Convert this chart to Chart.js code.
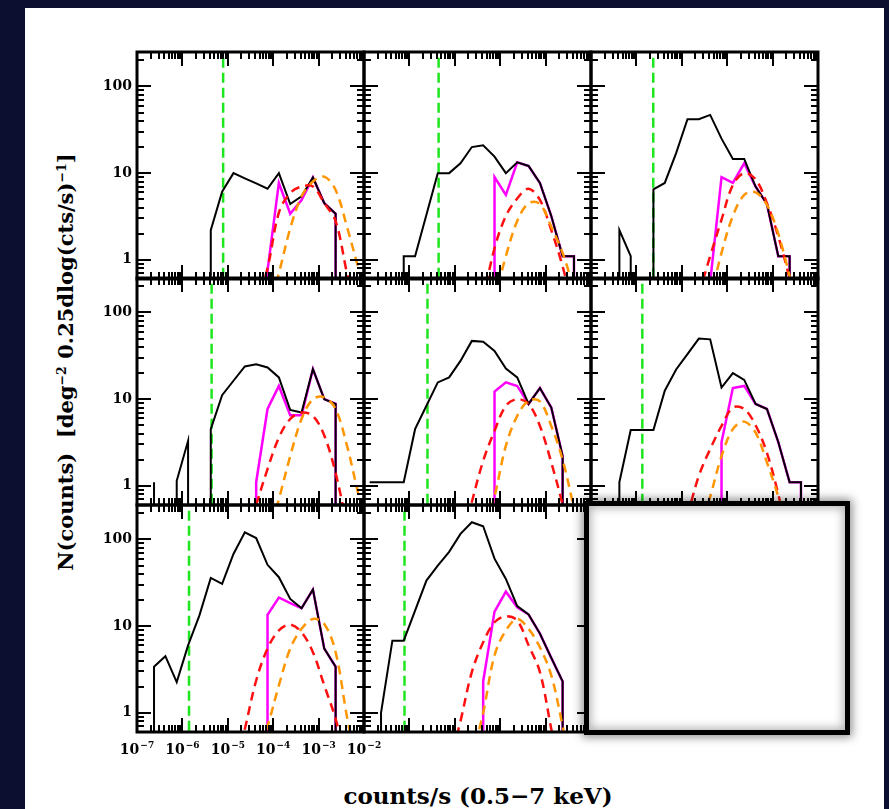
<!DOCTYPE html>
<html>
<head>
<meta charset="utf-8">
<script src="https://cdn.jsdelivr.net/npm/chart.js@4.4.1/dist/chart.umd.min.js"></script>
<style>
  html, body { margin: 0; padding: 0; }
  body { width: 889px; height: 809px; background: #0c0f30; position: relative; overflow: hidden; }
  #sheet { position: absolute; left: 25px; top: 8px; width: 859px; height: 810px; background: #fff; }
  canvas { position: absolute; }
  .title { position: absolute; font: bold 23px "DejaVu Serif", serif; color: #000; white-space: nowrap; }
  .title sup { font-size: 0.6em; vertical-align: 0.55em; line-height: 0; }
  #ytitle { left: 65px; top: 362px; transform: translate(-50%, -50%) rotate(-90deg); font-size: 21px; }
  #xtitle { left: 478px; top: 795px; transform: translate(-50%, -50%); }
  #blank { position: absolute; left: 584px; top: 501px; width: 256px; height: 224px;
           border: 5px solid #000; background: #fff; z-index: 10;
           box-shadow: 0 0 9px 2px rgba(0,0,0,0.45), inset 0 0 10px 2px rgba(0,0,0,0.3); }
</style>
</head>
<body>
<div id="sheet"></div>
<div id="ytitle" class="title">N(counts)&nbsp; [deg<sup>−2</sup> 0.25dlog(cts/s)<sup>−1</sup>]</div>
<div id="xtitle" class="title">counts/s (0.5−7 keV)</div>
<div id="blank"></div>

<script>
// bin centres, log10(counts/s), 0.25 dex bins
const binLog = [-6.875, -6.625, -6.375, -6.125, -5.875, -5.625, -5.375, -5.125, -4.875, -4.625,
                -4.375, -4.125, -3.875, -3.625, -3.375, -3.125, -2.875, -2.625, -2.375, -2.125];
const _ = null;

// total counts (black), 0 = empty bin
const blackCounts = [
  [0,0,0,0,0,0,2.2,6.1,10,8.7,7.6,6.6,10,4.4,5.4,8.9,4.5,3.4,0,0],
  [0,0,0,1.1,1.1,3.3,10,10,13,20,21,15.5,10,13.3,12.1,7.7,3.2,1.1,1.1,0],
  [0,0,2.2,1.1,0,6.5,7.7,17,42,42,47,25,14.6,14.6,7.0,4.4,1.1,1.1,0,0],
  [0,1.1,0,1.14,3.3,0,4.5,11.1,16.3,23.8,25.2,23.2,17.8,7.5,7.0,22.2,10,8.8,0,0],
  [1.1,1.1,1.1,1.1,4.5,8.4,15.6,17.8,27.6,47,46,36,22.6,17.8,8.8,13.4,8.0,2.2,0,0],
  [0,0,1.1,4.4,4.4,4.4,12.5,22,33,50,49,13.6,20,16.7,8.8,7.7,3.2,1.1,1.1,0],
  [0,3.4,4.5,2.26,6.0,13.3,36,30.8,68,121,104,51,36.7,20.6,16.1,26.4,5.5,3.4,0,0],
  [0,1.0,6.8,6.8,15.1,33.6,50,72,116,158,142,60,35,17,13.6,8.2,4.3,2.3,0,0]
];

// magenta counts
const magentaCounts = [
  [0,0,0,0,0,0,0,0,0,0,0,0.75,7.7,3.4,4.9,8.9,4.5,3.4,0,0],
  [0,0,0,0,0,0,0,0,0,0,0,9.0,5.6,13.3,12.1,7.7,3.2,1.1,1.1,0],
  [0,0,0,0,0,0,0,0,0,0,0.55,9.0,7.7,13,7.0,4.4,1.1,1.1,0,0],
  [0,0,0,0,0,0,0,0,0,0,1.1,7.7,14.2,6.5,6.5,22.2,10,8.8,0,0],
  [0,0,0,0,0,0,0,0,0,0,0,12.2,15.6,14.2,8.8,13.4,8.0,2.2,0,0],
  [0,0,0,0,0,0,0,0,0,0,0,3.2,13.4,14.2,8.8,7.7,3.2,1.1,1.1,0],
  [0,0,0,0,0,0,0,0,0,0,0,13.5,21.4,18.4,16.1,26.4,5.5,3.4,0,0],
  [0,0,0,0,0,0,0,0,0,0,2.3,14.7,25,16.5,13.6,8.2,4.3,2.3,0,0]
];

// red dashed model
const redModel = [
  [_,_,_,_,_,_,_,_,_,_,0.3,0.8,3.5,5.9,7.0,7.0,4.5,2.8,0.7,0.2],
  [_,_,_,_,_,_,_,_,_,_,0.35,1.36,3.2,5.1,6.6,4.9,2.2,0.84,0.25,_],
  [_,_,_,_,_,_,_,_,_,0.4,1.1,2.9,7.3,10,8.5,4.5,1.86,0.6,0.15,_],
  [_,_,_,_,_,_,_,_,_,_,0.6,1.56,3.6,5.9,7.0,6.4,3.8,1.4,0.35,_],
  [_,_,_,_,_,_,_,_,0.2,0.65,1.94,4.3,8.4,10,8.8,4.9,1.86,0.6,0.15,_],
  [_,_,_,_,_,_,_,_,0.45,1.3,2.65,4.9,8.0,7.7,5.0,2.4,0.8,0.2,_,_],
  [_,_,_,_,_,_,_,_,0.2,0.65,2.36,5.5,8.9,10.4,8.5,5.0,2.07,0.85,0.25,_],
  [_,_,_,_,_,_,_,0.25,0.8,2.95,6.5,11.1,13,11.6,6.0,2.95,0.65,0.15,_,_]
];

// orange dashed model
const orangeModel = [
  [_,_,_,_,_,_,_,_,_,_,_,0.25,0.7,2.3,5.4,8.0,9.1,6.4,2.4,0.8],
  [_,_,_,_,_,_,_,_,_,_,_,0.35,1.1,2.8,4.5,4.4,2.4,1.2,0.45,0.15],
  [_,_,_,_,_,_,_,_,_,_,0.35,1.2,3.2,5.6,6.0,4.3,2.0,0.65,0.2,_],
  [_,_,_,_,_,_,_,_,_,_,_,0.25,0.7,2.2,5.9,10,10.5,7.7,2.9,0.8],
  [_,_,_,_,_,_,_,_,_,_,0.25,0.75,2.9,6.4,9.6,9.4,4.9,2.0,0.55,_],
  [_,_,_,_,_,_,_,_,_,0.3,0.75,2.2,4.5,5.5,4.1,1.86,0.75,0.25,_,_],
  [_,_,_,_,_,_,_,_,_,_,0.3,0.7,2.07,5.5,9.3,12.1,10.6,5.0,0.9,0.2],
  [_,_,_,_,_,_,_,_,_,0.3,1.0,4.6,8.9,12.1,9.3,5.7,2.7,0.7,0.15,_]
];

// green dashed flux limit per panel (counts/s)
const fluxLimit = [7.9e-6, 4.4e-6, 2.35e-6, 4.4e-6, 2.5e-6, 1.35e-6, 1.4e-6, 7.8e-7];

const yTickValues = [1, 10, 100];
const yTickLabels = ['1', '10', '100'];
const xTickExps = [-7, -6, -5, -4, -3, -2];

const X_MIN = 1e-7, X_MAX = 1e-2;
const Y_MIN = 0.62, Y_MAX = 250;
const FLOOR = 0.01;

const colLeft = [137, 364, 591];
const rowTop = [52, 278, 505];
const W = 227, H = 227;
const PADL = 50, PADR = 24, PADT = 6, PADB = 34;
const MAJOR = 14, MINOR = 7;

// turn a bin array into line points; empty bins drop straight to the floor
function toPoints(vals) {
  const pts = [];
  for (let i = 0; i < vals.length; i++) {
    const v = vals[i];
    if (v === null) continue;
    if (v > 0) { pts.push({x: Math.pow(10, binLog[i]), y: v}); continue; }
    if (i > 0 && vals[i - 1] > 0) pts.push({x: Math.pow(10, binLog[i - 1]), y: FLOOR});
    pts.push({x: Math.pow(10, binLog[i]), y: null});
    if (i < vals.length - 1 && vals[i + 1] > 0) pts.push({x: Math.pow(10, binLog[i + 1]), y: FLOOR});
  }
  return pts;
}

const framePlugin = {
  id: 'frame',
  afterDatasetsDraw(chart, args, opts) {
    const ctx = chart.ctx, a = chart.chartArea;
    const xs = chart.scales.x, ys = chart.scales.y;
    ctx.save();
    ctx.strokeStyle = '#000';
    ctx.lineWidth = 2;
    ctx.beginPath();
    for (let e = -7; e <= -2; e++) {
      for (let m = 1; m <= 9; m++) {
        const v = m * Math.pow(10, e);
        if (v > X_MAX * 1.001) break;
        const px = Math.round(xs.getPixelForValue(v));
        const len = m === 1 ? MAJOR : MINOR;
        ctx.moveTo(px, a.bottom); ctx.lineTo(px, a.bottom - len);
        ctx.moveTo(px, a.top); ctx.lineTo(px, a.top + len);
      }
    }
    for (let e = -1; e <= 2; e++) {
      for (let m = 1; m <= 9; m++) {
        const v = m * Math.pow(10, e);
        if (v < Y_MIN || v > Y_MAX) continue;
        const py = Math.round(ys.getPixelForValue(v));
        const len = m === 1 ? MAJOR : MINOR;
        ctx.moveTo(a.left, py); ctx.lineTo(a.left + len, py);
        ctx.moveTo(a.right, py); ctx.lineTo(a.right - len, py);
      }
    }
    ctx.stroke();
    ctx.lineWidth = 3;
    ctx.strokeRect(a.left, a.top, a.right - a.left, a.bottom - a.top);

    ctx.fillStyle = '#000';
    if (opts.yLabels) {
      ctx.font = 'bold 14px "DejaVu Serif", serif';
      ctx.textAlign = 'right';
      ctx.textBaseline = 'middle';
      yTickValues.forEach((v, i) => {
        ctx.fillText(yTickLabels[i], a.left - 5, ys.getPixelForValue(v));
      });
    }
    if (opts.xLabels) {
      ctx.textBaseline = 'alphabetic';
      ctx.textAlign = 'left';
      xTickExps.forEach(e => {
        const px = xs.getPixelForValue(Math.pow(10, e));
        ctx.font = 'bold 14px "DejaVu Serif", serif';
        const w1 = ctx.measureText('10').width;
        ctx.font = 'bold 9px "DejaVu Serif", serif';
        const sup = '−' + Math.abs(e);
        const w2 = ctx.measureText(sup).width;
        const x0 = px - (w1 + w2 + 1) / 2;
        const base = a.bottom + 22;
        ctx.font = 'bold 14px "DejaVu Serif", serif';
        ctx.fillText('10', x0, base);
        ctx.font = 'bold 9px "DejaVu Serif", serif';
        ctx.fillText(sup, x0 + w1 + 1, base - 6);
      });
    }
    ctx.restore();
  }
};

for (let p = 0; p < 8; p++) {
  const c = p % 3, r = Math.floor(p / 3);
  const cv = document.createElement('canvas');
  cv.width = W + PADL + PADR;
  cv.height = H + PADT + PADB;
  cv.style.left = (colLeft[c] - PADL) + 'px';
  cv.style.top = (rowTop[r] - PADT) + 'px';
  document.body.appendChild(cv);

  const datasets = [
    { data: toPoints(orangeModel[p]), borderColor: '#ff9500', borderWidth: 2.5,
      borderDash: [9, 6], tension: 0.35, order: 0 },
    { data: toPoints(redModel[p]), borderColor: '#ff1010', borderWidth: 2.5,
      borderDash: [9, 6], tension: 0.35, order: 1 },
    { data: toPoints(blackCounts[p]), borderColor: '#000', borderWidth: 2, order: 2 },
    { data: toPoints(magentaCounts[p]), borderColor: '#ff00ff', borderWidth: 2.5, order: 3 },
    { data: [{x: fluxLimit[p], y: Y_MIN}, {x: fluxLimit[p], y: Y_MAX}],
      borderColor: '#1ee61e', borderWidth: 2.5, borderDash: [10, 5], order: 4 }
  ];
  datasets.forEach(d => { d.pointRadius = 0; d.clip = 0; d.spanGaps = false; d.fill = false; });

  new Chart(cv, {
    type: 'line',
    data: { datasets },
    options: {
      responsive: false,
      animation: false,
      events: [],
      layout: { padding: { left: PADL, right: PADR, top: PADT, bottom: PADB } },
      plugins: {
        legend: { display: false },
        tooltip: { enabled: false },
        frame: { yLabels: c === 0, xLabels: p === 6 }
      },
      scales: {
        x: { type: 'logarithmic', min: X_MIN, max: X_MAX, display: false },
        y: { type: 'logarithmic', min: Y_MIN, max: Y_MAX, display: false }
      }
    },
    plugins: [framePlugin]
  });
}
</script>
</body>
</html>
